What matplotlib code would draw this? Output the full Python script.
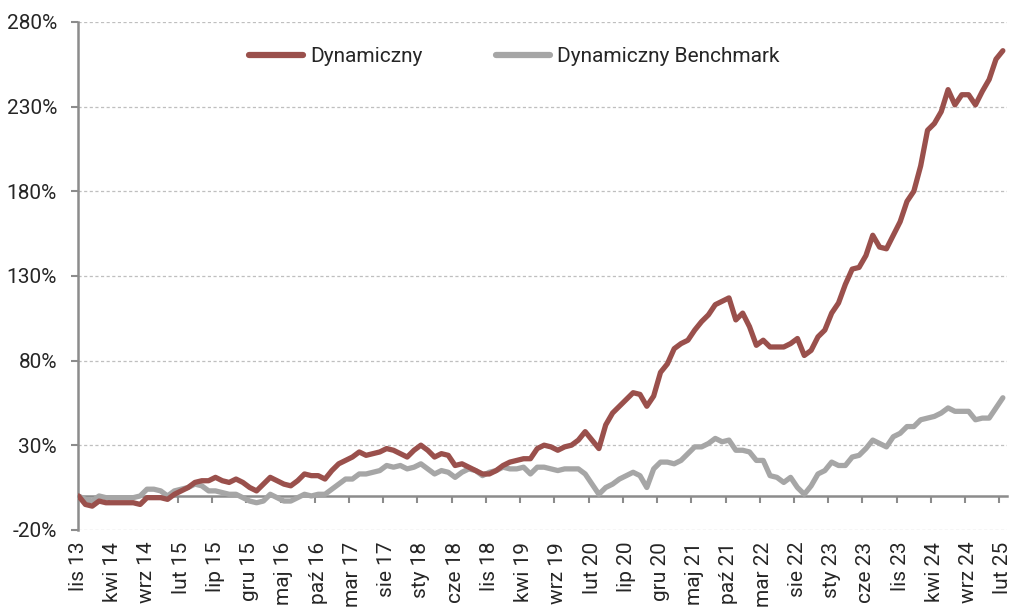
import numpy as np
import matplotlib
matplotlib.use("Agg")
import matplotlib.pyplot as plt
from matplotlib.ticker import FixedLocator

# monthly data lis 13 .. lut 25 (cumulative return, %)
month_names = ['sty', 'lut', 'mar', 'kwi', 'maj', 'cze',
               'lip', 'sie', 'wrz', 'paź', 'lis', 'gru']
start_month = 10   # lis
start_year = 13

dynamiczny = [
    0, -5, -6, -3, -4, -4, -4, -4, -4, -5, -1, -1, -1, -2, 1, 3, 5, 8, 9, 9,
    11, 9, 8, 10, 8, 5, 3, 7, 11, 9, 7, 6, 9, 13, 12, 12,
    10, 15, 19, 21, 23, 26, 24, 25, 26, 28, 27, 25, 23, 27, 30, 27, 23, 25,
    24, 18, 19, 17, 15, 13, 13, 15, 18, 20, 21, 22, 22, 28, 30, 29, 27,
    29, 30, 33, 38, 33, 28, 42, 49, 53, 57, 61, 60, 53, 59, 73, 78, 87, 90,
    92, 98, 103, 107, 113, 115, 117, 104, 108, 100, 89, 92, 88, 88, 88,
    90, 93, 83, 86, 94, 98, 108, 114, 125, 134, 135, 142, 154, 147, 146,
    154, 162, 174,
    180, 195, 216, 220, 227, 240, 231, 237, 237, 231, 239, 246, 258, 263,
]

benchmark = [
    0, -2, -3, 0, -1, -1, -1, -1, -1, 0, 4, 4, 3, 0, 3, 4, 5, 7, 6, 3,
    3, 2, 1, 1, -1, -3, -4, -3, 1, -1, -3, -3, -1, 1, 0, 1,
    1, 4, 7, 10, 10, 13, 13, 14, 15, 18, 17, 18, 16, 17, 19, 16, 13, 15,
    14, 11, 14, 16, 15, 12, 14, 15, 17, 16, 16, 17, 13, 17, 17, 16, 15,
    16, 16, 16, 13, 7, 1, 5, 7, 10, 12, 14, 12, 5, 16, 20, 20, 19, 21,
    25, 29, 29, 31, 34, 32, 33, 27, 27, 26, 21, 21, 12, 11, 8,
    11, 5, 1, 6, 13, 15, 20, 18, 18, 23, 24, 28, 33, 31, 29, 35, 37, 41,
    41, 45, 46, 47, 49, 52, 50, 50, 50, 45, 46, 46, 52, 58,
]

n = len(dynamiczny)
labels = []
for k in range(n):
    m = (start_month + k) % 12
    y = start_year + (start_month + k) // 12
    labels.append(f"{month_names[m]} {y}")

yticks = [-20, 30, 80, 130, 180, 230, 280]

RED = '#9A504C'
GRAY = '#A6A6A6'
AXIS = '#8C8C8C'
TEXT = '#262626'

plt.rcParams['font.family'] = ['Roboto', 'DejaVu Sans']

fig = plt.figure(figsize=(10.11, 6.09), dpi=100)
ax = fig.add_axes([0.077, 0.130, 0.919, 0.834])

x = np.arange(n)
ax.plot(x, dynamiczny, color=RED, lw=3.8, solid_joinstyle='round',
        solid_capstyle='round', label='Dynamiczny', zorder=3)
ax.plot(x, benchmark, color=GRAY, lw=3.8, solid_joinstyle='round',
        solid_capstyle='round', label='Dynamiczny Benchmark', zorder=2)

ax.set_xlim(-0.1, n - 0.4)
ax.set_ylim(-20, 280)

# horizontal dashed grid
for v in yticks:
    ax.axhline(v, color='#BFBFBF', lw=0.9, ls=(0, (2.5, 2)), zorder=0)

ax.set_yticks(yticks)
ax.set_yticklabels([f"{v}%" for v in yticks])
ax.tick_params(axis='y', length=5, width=1.5, color=AXIS, pad=10,
               labelsize=15, labelcolor=TEXT)

for s in ['top', 'right']:
    ax.spines[s].set_visible(False)
ax.spines['left'].set_color(AXIS)
ax.spines['left'].set_linewidth(1.8)
ax.spines['bottom'].set_position(('data', 0))
ax.spines['bottom'].set_color(AXIS)
ax.spines['bottom'].set_linewidth(1.8)
ax.spines['bottom'].set_zorder(1)

ax.set_xticks(x[::5])
ax.set_xticklabels(labels[::5], rotation=90)
ax.xaxis.set_minor_locator(FixedLocator(x[5::5] - 0.5))
ax.tick_params(axis='x', which='major', length=0, pad=33, labelsize=15,
               labelcolor=TEXT)
ax.tick_params(axis='x', which='minor', length=5, width=1.5, color=AXIS,
               direction='out')

leg = ax.legend(loc='center', bbox_to_anchor=(0.47, 0.932), ncol=2,
                frameon=False, fontsize=15, handlelength=2.6,
                handletextpad=0.35, columnspacing=3.5, labelcolor=TEXT)
for line in leg.get_lines():
    line.set_linewidth(4.5)

fig.savefig('out.png', dpi=100)
